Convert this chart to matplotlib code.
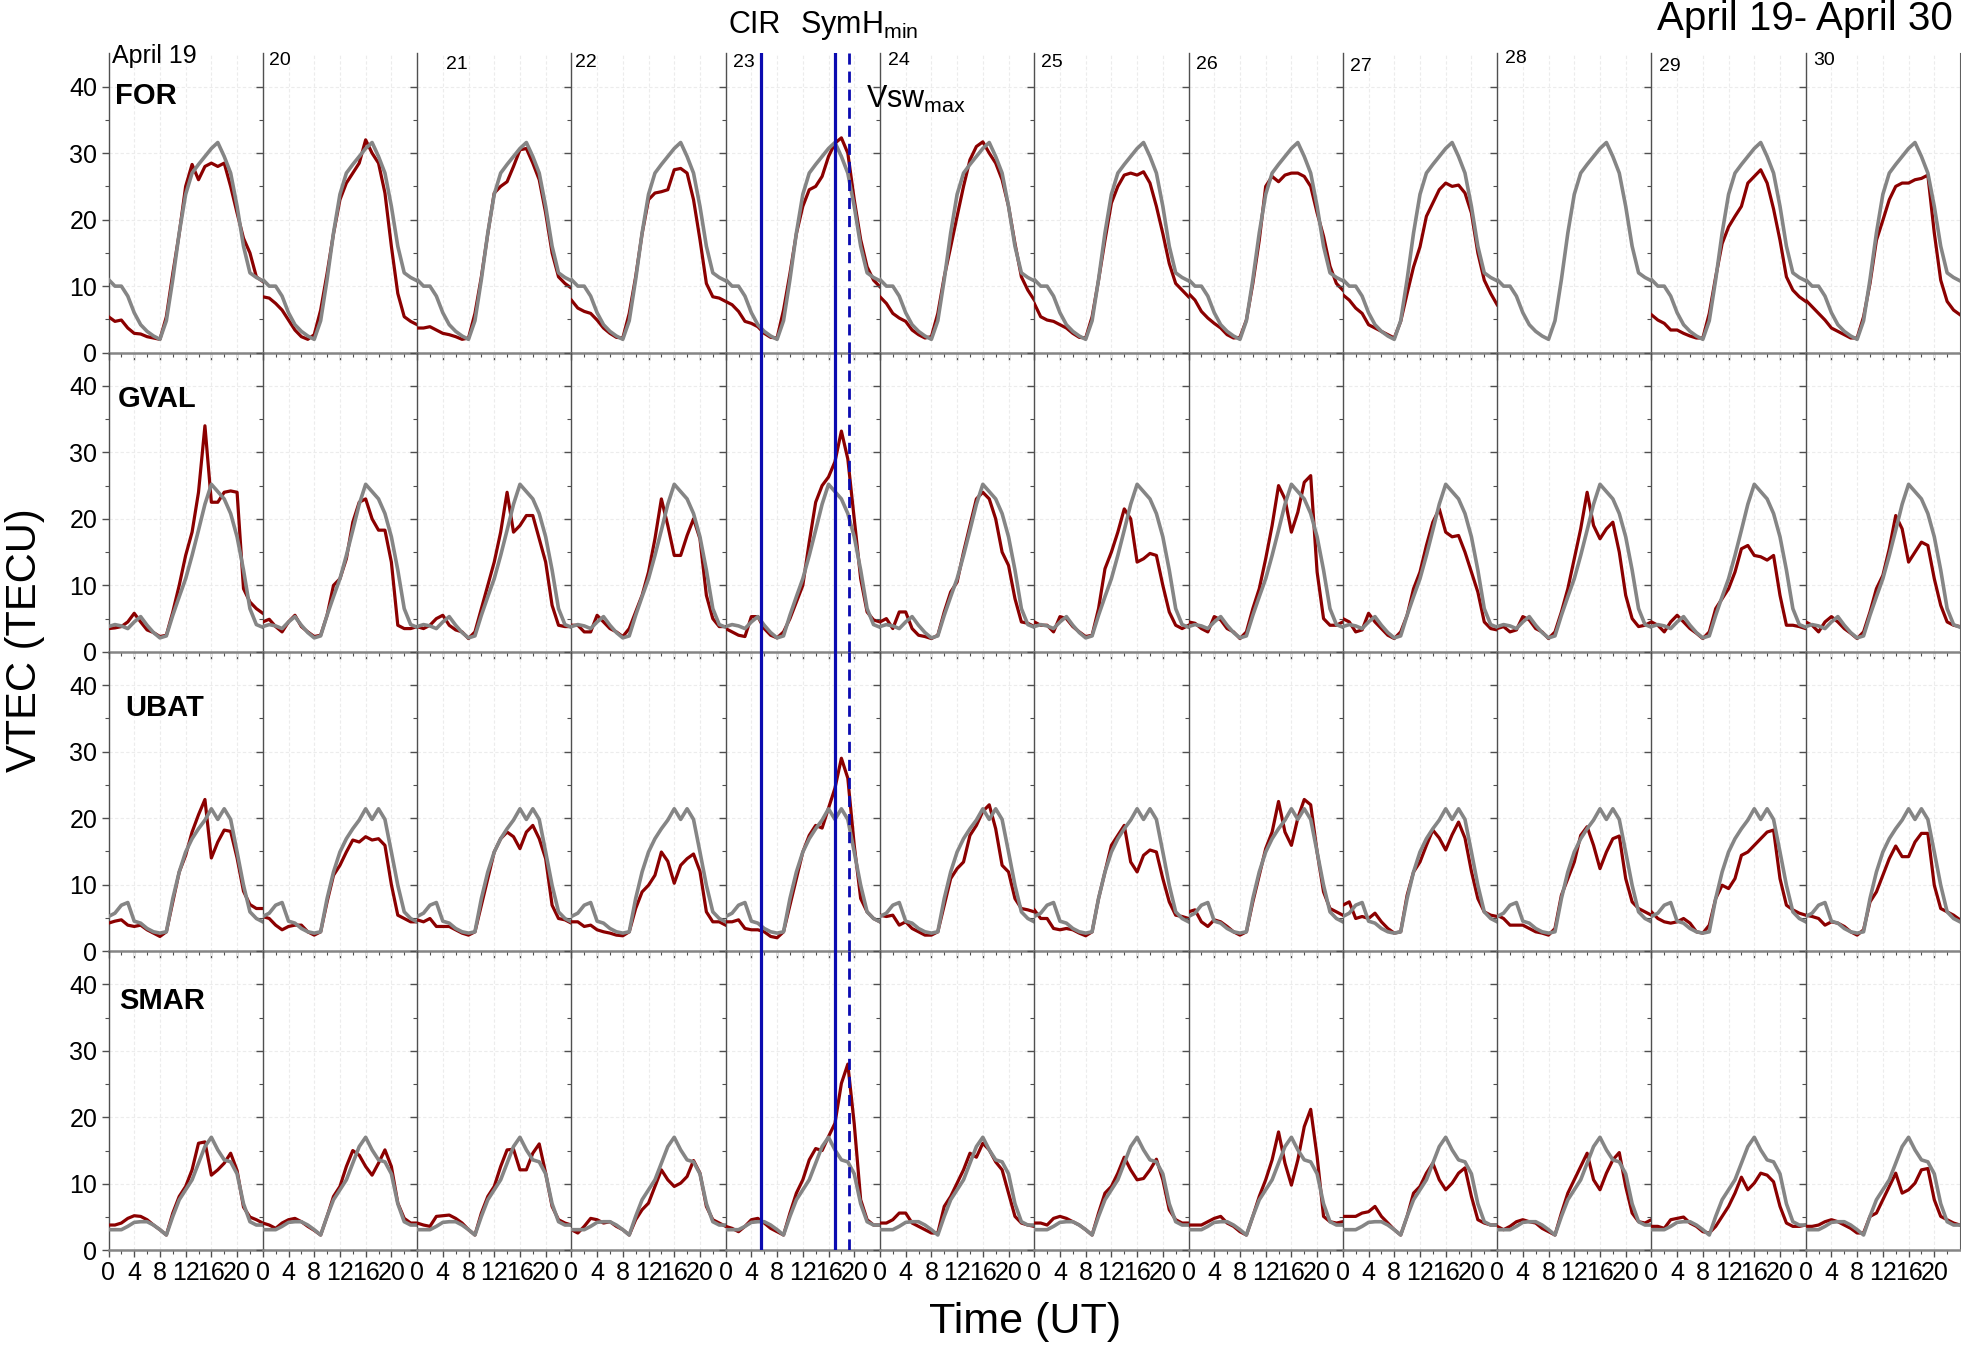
import matplotlib.pyplot as plt
import numpy as np

plt.rcParams['font.family'] = ['Liberation Sans', 'DejaVu Sans']
plt.rcParams['mathtext.fontset'] = 'custom'
plt.rcParams['mathtext.rm'] = 'Liberation Sans'
plt.rcParams['mathtext.it'] = 'Liberation Sans:italic'

# hourly samples, 0..24 UT for each day
hours = np.arange(25)
day_names = ['April 19', '20', '21', '22', '23', '24', '25', '26', '27', '28', '29', '30']

# quiet-time reference (grey), same curve every day
for_quiet = [11.0, 10.0, 10.0, 8.5, 6.0, 4.2, 3.2, 2.5, 2.0, 4.8, 11.0, 18.0, 23.8, 27.0, 28.3,
             29.5, 30.7, 31.6, 29.5, 27.0, 22.0, 16.0, 12.0, 11.3, 10.8]
gval_quiet = [3.8, 4.1, 3.9, 3.5, 4.5, 5.3, 4.0, 2.9, 2.1, 2.4, 5.5, 8.3, 11.0, 14.5, 18.3,
              22.2, 25.2, 24.1, 23.0, 20.8, 17.3, 12.3, 6.5, 4.1, 3.7]
ubat_quiet = [5.2, 5.7, 6.9, 7.3, 4.5, 4.2, 3.4, 2.9, 2.7, 2.9, 7.9, 11.9, 14.9, 16.9, 18.4,
              19.7, 21.4, 19.8, 21.4, 19.8, 14.9, 9.9, 5.9, 4.9, 4.4]
smar_quiet = [3.1, 3.1, 3.1, 3.6, 4.2, 4.3, 4.3, 3.8, 3.1, 2.3, 5.1, 7.6, 9.1, 10.6, 13.1,
              15.6, 17.0, 15.1, 13.6, 13.3, 11.5, 7.0, 4.3, 3.8, 3.8]

# observed VTEC (red), one list per day April 19..30 (None = no data)
for_vtec = [
    [5.4, 4.7, 4.9, 3.7, 2.9, 2.8, 2.4, 2.2, 2.0, 5.4, 11.9, 17.9, 25.0, 28.3, 26.0, 28.0, 28.5, 28.0, 28.5, 25.0, 21.0, 17.2, 15.0, 11.4, 10.7],
    [8.4, 8.2, 7.4, 6.4, 4.9, 3.4, 2.4, 2.0, 2.7, 6.4, 11.9, 17.9, 23.0, 25.5, 27.0, 28.5, 32.0, 30.0, 28.5, 24.0, 16.0, 8.9, 5.4, 4.7, 4.2],
    [3.7, 3.7, 3.9, 3.4, 2.9, 2.7, 2.4, 2.0, 2.2, 5.9, 11.4, 17.9, 24.0, 25.0, 25.7, 28.0, 30.5, 30.7, 28.5, 26.0, 21.0, 15.0, 11.4, 10.4, 9.7],
    [7.9, 6.7, 6.2, 5.9, 4.9, 3.7, 2.9, 2.3, 2.2, 5.9, 11.4, 17.9, 23.0, 24.0, 24.2, 24.5, 27.5, 27.7, 27.0, 23.0, 17.0, 10.4, 8.4, 8.2, 7.7],
    [7.7, 7.2, 6.2, 4.7, 4.4, 3.9, 2.9, 2.3, 2.2, 6.4, 11.9, 17.9, 22.0, 24.5, 25.0, 26.5, 29.5, 31.5, 32.3, 30.0, 23.0, 17.0, 12.9, 10.9, 9.9],
    [8.4, 7.4, 5.9, 5.2, 4.7, 3.4, 2.7, 2.2, 2.4, 5.9, 11.4, 15.9, 20.5, 25.0, 29.0, 31.0, 31.7, 30.0, 28.5, 26.0, 22.0, 16.4, 11.4, 9.4, 7.9],
    [7.4, 5.4, 4.9, 4.7, 4.2, 3.7, 2.9, 2.3, 2.2, 5.4, 10.9, 16.9, 22.5, 25.0, 26.7, 27.0, 26.7, 27.2, 25.5, 22.0, 17.9, 13.4, 10.4, 9.4, 8.4],
    [8.9, 7.9, 6.2, 5.2, 4.4, 3.7, 2.7, 2.2, 2.3, 4.9, 10.4, 16.9, 25.0, 26.5, 25.7, 26.7, 27.0, 27.0, 26.5, 25.0, 21.0, 17.5, 13.0, 10.4, 9.4],
    [8.7, 7.9, 6.7, 5.9, 4.2, 3.7, 3.2, 2.7, 2.2, 4.7, 8.9, 12.9, 15.9, 20.5, 22.5, 24.5, 25.5, 25.0, 25.2, 24.0, 21.0, 15.0, 10.9, 8.9, 7.2],
    None,
    [5.7, 4.9, 4.4, 3.4, 3.4, 2.9, 2.5, 2.2, 2.2, 5.9, 11.4, 16.4, 18.9, 20.5, 22.0, 25.5, 26.5, 27.5, 25.5, 21.6, 16.9, 11.4, 9.4, 8.4, 7.7],
    [7.9, 6.9, 5.9, 4.9, 3.7, 3.2, 2.7, 2.2, 2.2, 5.4, 10.4, 16.9, 19.9, 23.0, 25.0, 25.5, 25.5, 26.0, 26.2, 26.7, 18.0, 10.9, 7.7, 6.4, 5.7],
]
gval_vtec = [
    [3.5, 3.6, 3.8, 4.5, 5.8, 4.5, 3.3, 2.9, 2.3, 2.5, 6.0, 10.0, 14.5, 18.0, 24.0, 34.0, 22.5, 22.5, 24.0, 24.2, 24.0, 9.5, 7.5, 6.5, 5.8],
    [4.5, 4.9, 3.8, 3.0, 4.5, 5.5, 3.8, 3.0, 2.3, 2.5, 5.5, 10.0, 11.0, 14.0, 19.5, 22.5, 23.0, 20.0, 18.3, 18.3, 13.5, 4.0, 3.5, 3.5, 3.8],
    [3.8, 3.5, 4.0, 5.0, 5.5, 4.0, 3.3, 3.0, 2.0, 3.0, 6.5, 10.0, 13.5, 18.0, 24.0, 18.0, 19.0, 20.5, 20.5, 17.0, 13.5, 7.0, 4.0, 3.8, 3.8],
    [4.0, 4.0, 3.0, 3.0, 5.5, 4.5, 3.5, 3.0, 2.3, 3.5, 6.0, 8.5, 12.0, 17.0, 23.0, 19.0, 14.5, 14.5, 17.5, 20.0, 17.0, 8.5, 5.0, 3.8, 3.8],
    [3.5, 3.0, 2.5, 2.3, 5.3, 5.3, 3.5, 2.5, 2.1, 3.0, 5.0, 7.5, 10.0, 16.5, 22.5, 25.0, 26.3, 28.6, 33.2, 29.0, 20.0, 11.0, 6.0, 4.8, 4.5],
    [4.5, 5.0, 3.5, 6.0, 6.0, 3.5, 2.5, 2.3, 2.0, 2.5, 6.0, 9.0, 10.5, 15.0, 19.0, 23.0, 24.0, 23.0, 20.0, 15.0, 13.0, 8.0, 4.5, 4.3, 3.8],
    [4.5, 4.0, 4.0, 3.0, 5.3, 5.0, 3.8, 3.0, 2.3, 2.5, 6.5, 12.5, 15.0, 18.0, 21.5, 20.0, 13.5, 14.0, 14.8, 14.5, 10.0, 6.0, 4.0, 3.5, 4.0],
    [4.5, 4.3, 3.5, 3.0, 5.3, 4.8, 3.5, 3.0, 2.0, 3.0, 6.5, 9.5, 14.0, 19.0, 25.0, 23.0, 18.0, 21.0, 25.5, 26.5, 12.0, 5.0, 4.0, 4.0, 4.5],
    [5.0, 4.5, 3.0, 3.3, 5.8, 4.5, 3.5, 2.5, 2.0, 3.0, 5.5, 9.5, 12.0, 16.0, 19.5, 21.5, 18.0, 17.3, 17.5, 15.0, 12.0, 9.0, 4.5, 3.5, 3.3],
    [3.5, 3.8, 3.0, 3.3, 5.3, 4.8, 3.5, 3.0, 2.0, 3.0, 6.0, 9.5, 14.0, 18.5, 24.0, 19.0, 17.0, 18.5, 19.5, 15.0, 8.5, 5.0, 3.8, 4.0, 4.5],
    [4.5, 4.0, 3.0, 4.5, 5.5, 4.5, 3.5, 2.8, 2.0, 3.0, 6.5, 8.0, 9.5, 12.0, 15.5, 16.0, 14.5, 14.3, 13.8, 14.5, 8.5, 4.0, 4.0, 3.8, 3.5],
    [4.5, 4.0, 3.0, 4.5, 5.3, 4.5, 3.5, 2.8, 2.0, 3.0, 6.0, 9.5, 11.5, 15.5, 20.5, 18.5, 13.5, 15.0, 16.5, 16.0, 11.0, 7.0, 4.5, 4.0, 3.8],
]
ubat_vtec = [
    [4.2, 4.5, 4.7, 3.9, 3.7, 3.9, 3.2, 2.7, 2.2, 2.9, 7.4, 11.9, 14.4, 17.9, 20.5, 22.8, 14.0, 16.4, 18.2, 18.0, 14.0, 9.0, 7.0, 6.4, 6.4],
    [5.2, 4.9, 3.9, 3.2, 3.7, 3.9, 3.9, 2.9, 2.4, 2.9, 7.4, 11.4, 12.9, 14.9, 16.7, 16.4, 17.2, 16.7, 16.9, 15.9, 10.0, 5.4, 4.9, 4.4, 4.4],
    [4.7, 4.4, 4.9, 3.7, 3.7, 3.7, 3.2, 2.7, 2.4, 2.9, 6.9, 10.9, 14.9, 16.9, 17.9, 17.2, 15.4, 17.9, 18.9, 16.9, 13.9, 6.9, 4.9, 4.7, 4.2],
    [4.4, 4.4, 3.7, 3.9, 3.2, 2.9, 2.7, 2.4, 2.3, 2.9, 6.4, 8.9, 9.9, 11.4, 14.9, 13.5, 10.2, 12.9, 13.9, 14.6, 12.0, 5.9, 4.4, 4.4, 3.9],
    [4.4, 4.4, 4.7, 3.4, 3.2, 3.2, 2.9, 2.2, 2.0, 2.9, 6.9, 10.9, 14.9, 17.4, 18.9, 18.5, 21.5, 24.5, 29.0, 26.0, 15.9, 7.9, 5.9, 4.9, 4.4],
    [5.4, 5.2, 5.4, 3.9, 4.4, 3.4, 2.9, 2.4, 2.4, 2.9, 6.9, 10.9, 12.4, 13.4, 17.4, 18.9, 21.0, 22.0, 18.4, 12.9, 11.9, 7.9, 6.4, 6.2, 5.9],
    [6.2, 4.9, 4.9, 3.4, 3.2, 3.4, 3.2, 2.7, 2.3, 2.9, 7.9, 11.9, 15.9, 17.4, 18.9, 13.4, 11.9, 14.4, 15.2, 14.9, 10.9, 7.4, 5.4, 5.2, 4.9],
    [5.9, 6.2, 4.4, 3.7, 4.7, 4.4, 3.7, 2.9, 2.4, 2.9, 7.4, 11.4, 15.4, 17.9, 22.5, 17.9, 15.9, 20.0, 22.8, 22.0, 14.9, 8.9, 6.4, 5.9, 5.4],
    [6.9, 7.4, 4.9, 5.2, 4.9, 5.7, 4.4, 3.4, 2.7, 2.9, 8.4, 11.9, 13.4, 15.9, 18.2, 17.0, 15.2, 17.5, 19.4, 17.0, 12.0, 7.9, 5.9, 5.4, 5.2],
    [5.4, 4.9, 3.9, 3.9, 3.9, 3.4, 2.9, 2.7, 2.4, 3.4, 8.4, 10.9, 13.4, 17.4, 18.7, 15.9, 12.4, 14.9, 16.9, 17.3, 10.9, 7.4, 6.4, 5.9, 5.4],
    [5.9, 4.9, 4.4, 4.2, 4.4, 4.9, 4.2, 2.9, 2.7, 3.9, 7.9, 9.9, 9.4, 10.9, 14.4, 14.9, 15.9, 16.9, 17.9, 18.2, 10.9, 6.9, 6.2, 5.7, 5.4],
    [5.4, 5.2, 4.9, 3.9, 4.4, 4.2, 3.7, 2.9, 2.4, 3.2, 7.4, 8.9, 11.4, 13.9, 15.8, 14.2, 14.2, 16.4, 17.7, 17.7, 9.9, 6.4, 5.9, 5.4, 4.7],
]
smar_vtec = [
    [3.8, 3.8, 4.1, 4.8, 5.2, 5.1, 4.6, 3.8, 3.1, 2.3, 5.6, 8.1, 9.6, 12.1, 16.1, 16.3, 11.3, 12.1, 13.1, 14.6, 12.0, 6.5, 5.0, 4.6, 4.1],
    [4.1, 3.8, 3.3, 4.1, 4.6, 4.8, 4.3, 3.6, 3.0, 2.3, 5.1, 8.1, 9.6, 12.6, 15.0, 14.3, 12.6, 11.3, 13.1, 15.1, 12.6, 7.1, 4.8, 4.1, 4.1],
    [4.1, 3.8, 3.6, 5.1, 5.2, 5.3, 4.8, 4.1, 3.1, 2.3, 5.6, 8.1, 9.6, 12.6, 15.1, 15.2, 12.1, 12.1, 14.6, 16.0, 11.6, 6.6, 4.6, 4.1, 3.8],
    [3.1, 2.6, 3.6, 4.8, 4.6, 4.1, 4.3, 3.6, 3.1, 2.3, 4.6, 6.1, 7.1, 9.6, 12.1, 10.6, 9.6, 10.1, 11.1, 13.5, 11.6, 6.6, 4.6, 4.1, 3.6],
    [3.6, 3.3, 2.8, 3.6, 4.6, 4.8, 4.1, 3.3, 2.8, 2.3, 5.6, 8.6, 10.6, 13.6, 15.3, 15.0, 17.1, 19.1, 25.1, 28.0, 19.0, 7.6, 4.6, 3.8, 3.8],
    [4.1, 4.1, 4.6, 5.6, 5.6, 4.1, 3.6, 3.1, 2.6, 2.6, 6.6, 8.1, 10.1, 12.1, 14.6, 14.0, 16.1, 15.1, 13.3, 12.1, 8.6, 5.1, 4.1, 3.8, 3.6],
    [4.1, 4.1, 3.8, 4.8, 5.1, 4.8, 4.3, 3.8, 3.1, 2.3, 5.6, 8.6, 9.6, 11.6, 14.0, 12.1, 10.6, 10.8, 12.1, 13.7, 10.6, 6.1, 4.6, 4.1, 4.1],
    [3.8, 3.8, 3.8, 4.3, 4.8, 5.1, 4.1, 3.6, 2.8, 2.3, 5.1, 8.1, 10.6, 13.6, 17.8, 13.1, 9.8, 13.6, 18.6, 21.2, 14.1, 5.1, 4.3, 4.1, 4.3],
    [5.1, 5.1, 5.1, 5.6, 5.8, 6.6, 5.1, 4.1, 3.1, 2.3, 5.1, 8.6, 9.6, 11.6, 13.1, 10.6, 9.1, 10.1, 11.6, 12.4, 8.1, 4.6, 4.1, 3.8, 3.8],
    [3.6, 3.1, 3.6, 4.3, 4.6, 4.3, 4.1, 3.3, 2.8, 2.3, 5.6, 8.6, 10.6, 12.6, 14.6, 10.6, 9.1, 11.6, 13.6, 14.7, 9.6, 5.6, 4.3, 4.1, 4.6],
    [3.6, 3.6, 3.3, 4.6, 4.8, 5.0, 4.1, 3.6, 2.8, 2.6, 3.6, 5.1, 6.6, 8.6, 11.0, 9.1, 10.1, 11.6, 11.3, 10.3, 6.6, 4.1, 3.6, 3.6, 3.8],
    [3.6, 3.6, 3.8, 4.3, 4.6, 4.3, 3.8, 3.3, 2.6, 2.6, 5.1, 5.6, 7.6, 9.6, 11.6, 8.6, 9.1, 10.1, 12.1, 12.3, 7.6, 5.1, 4.6, 4.1, 3.8],
]

station_names = ['FOR', 'GVAL', 'UBAT', 'SMAR']
quiet = [for_quiet, gval_quiet, ubat_quiet, smar_quiet]
vtec = [for_vtec, gval_vtec, ubat_vtec, smar_vtec]

# event times on April 23 (UT hours)
cir_time = 5.5
symh_time = 17.0
vsw_time = 19.25

# label placement (hours / TECU inside panels)
day_label_x = [0.5, 0.9, 4.5, 0.6, 1.1, 1.2, 1.1, 1.1, 1.1, 1.2, 1.2, 1.2]
day_label_y = [44.6, 44.0, 43.3, 43.6, 43.7, 44.0, 43.6, 43.3, 43.1, 44.3, 43.0, 44.0]
station_label_x = [1.0, 1.5, 2.6, 1.6]
station_label_y = [38.6, 38.0, 36.6, 37.5]

red = '#8b0000'
grey = '#858585'
blue = '#0b0bb0'
W, H = 1961, 1348

fig, axes = plt.subplots(4, 12, figsize=(19.61, 13.48), dpi=100, sharex=True, sharey=True)
fig.subplots_adjust(left=108.5 / W, right=1960 / W, top=1 - 53.4 / H, bottom=1 - 1250.3 / H,
                    wspace=0, hspace=0)

for r in range(4):
    for d in range(12):
        ax = axes[r, d]
        ax.set_facecolor('none')
        ax.set_xlim(0, 24)
        ax.set_ylim(0, 45)
        ax.set_xticks([0, 4, 8, 12, 16, 20])
        ax.set_xticks([2, 6, 10, 14, 18, 22], minor=True)
        ax.set_yticks([0, 10, 20, 30, 40])
        ax.set_yticks([5, 15, 25, 35], minor=True)
        ax.grid(True, which='major', color='#ececec', lw=0.8, ls=(0, (3, 2)))
        ax.set_axisbelow(True)
        ax.spines['top'].set_visible(False)
        ax.spines['right'].set_visible(d == 11)
        ax.spines['right'].set_color('#606060')
        ax.spines['left'].set_color('#505050')
        ax.spines['left'].set_linewidth(1.0)
        ax.spines['bottom'].set_color('#858585')
        ax.spines['bottom'].set_linewidth(1.8)
        ax.tick_params(which='major', direction='out', length=5, width=1, color='#505050',
                       labelsize=18, pad=3)
        ax.tick_params(which='minor', direction='out', length=3, width=0.8, color='#505050')

        obs = vtec[r][d]
        if obs is not None:
            ax.plot(hours, obs, color=red, lw=2.3, zorder=3)
        ax.plot(hours, quiet[r], color=grey, lw=2.6, zorder=4)

    axes[r, 0].text(station_label_x[r], station_label_y[r], station_names[r],
                    fontsize=21, fontweight='bold', va='center', ha='left')

    # storm markers on April 23
    ev = axes[r, 4]
    ev.axvline(cir_time, color=blue, lw=2.3, zorder=5)
    ev.axvline(symh_time, color=blue, lw=2.3, zorder=5)
    ev.axvline(vsw_time, color=blue, lw=2.0, ls=(0, (4, 2.5)), zorder=5)

for d in range(12):
    axes[0, d].text(day_label_x[d], day_label_y[d], day_names[d],
                    fontsize=18 if d == 0 else 14, va='center', ha='left')

fig.text(25 / W, 1 - 640 / H, 'VTEC (TECU)', rotation=90, ha='center', va='center', fontsize=30)
fig.text(1025 / W, 1 - 1322 / H, 'Time (UT)', ha='center', va='center', fontsize=31)
fig.text(1953 / W, 1 - 30 / H, 'April 19- April 30', ha='right', va='baseline', fontsize=29)
fig.text(728 / W, 1 - 33 / H, 'CIR', ha='left', va='baseline', fontsize=22)
fig.text(800 / W, 1 - 33 / H, r'SymH$_{\mathrm{min}}$', ha='left', va='baseline', fontsize=22)
fig.text(866 / W, 1 - 108 / H, r'Vsw$_{\mathrm{max}}$', ha='left', va='baseline', fontsize=22)

fig.savefig('out.png', dpi=100)
